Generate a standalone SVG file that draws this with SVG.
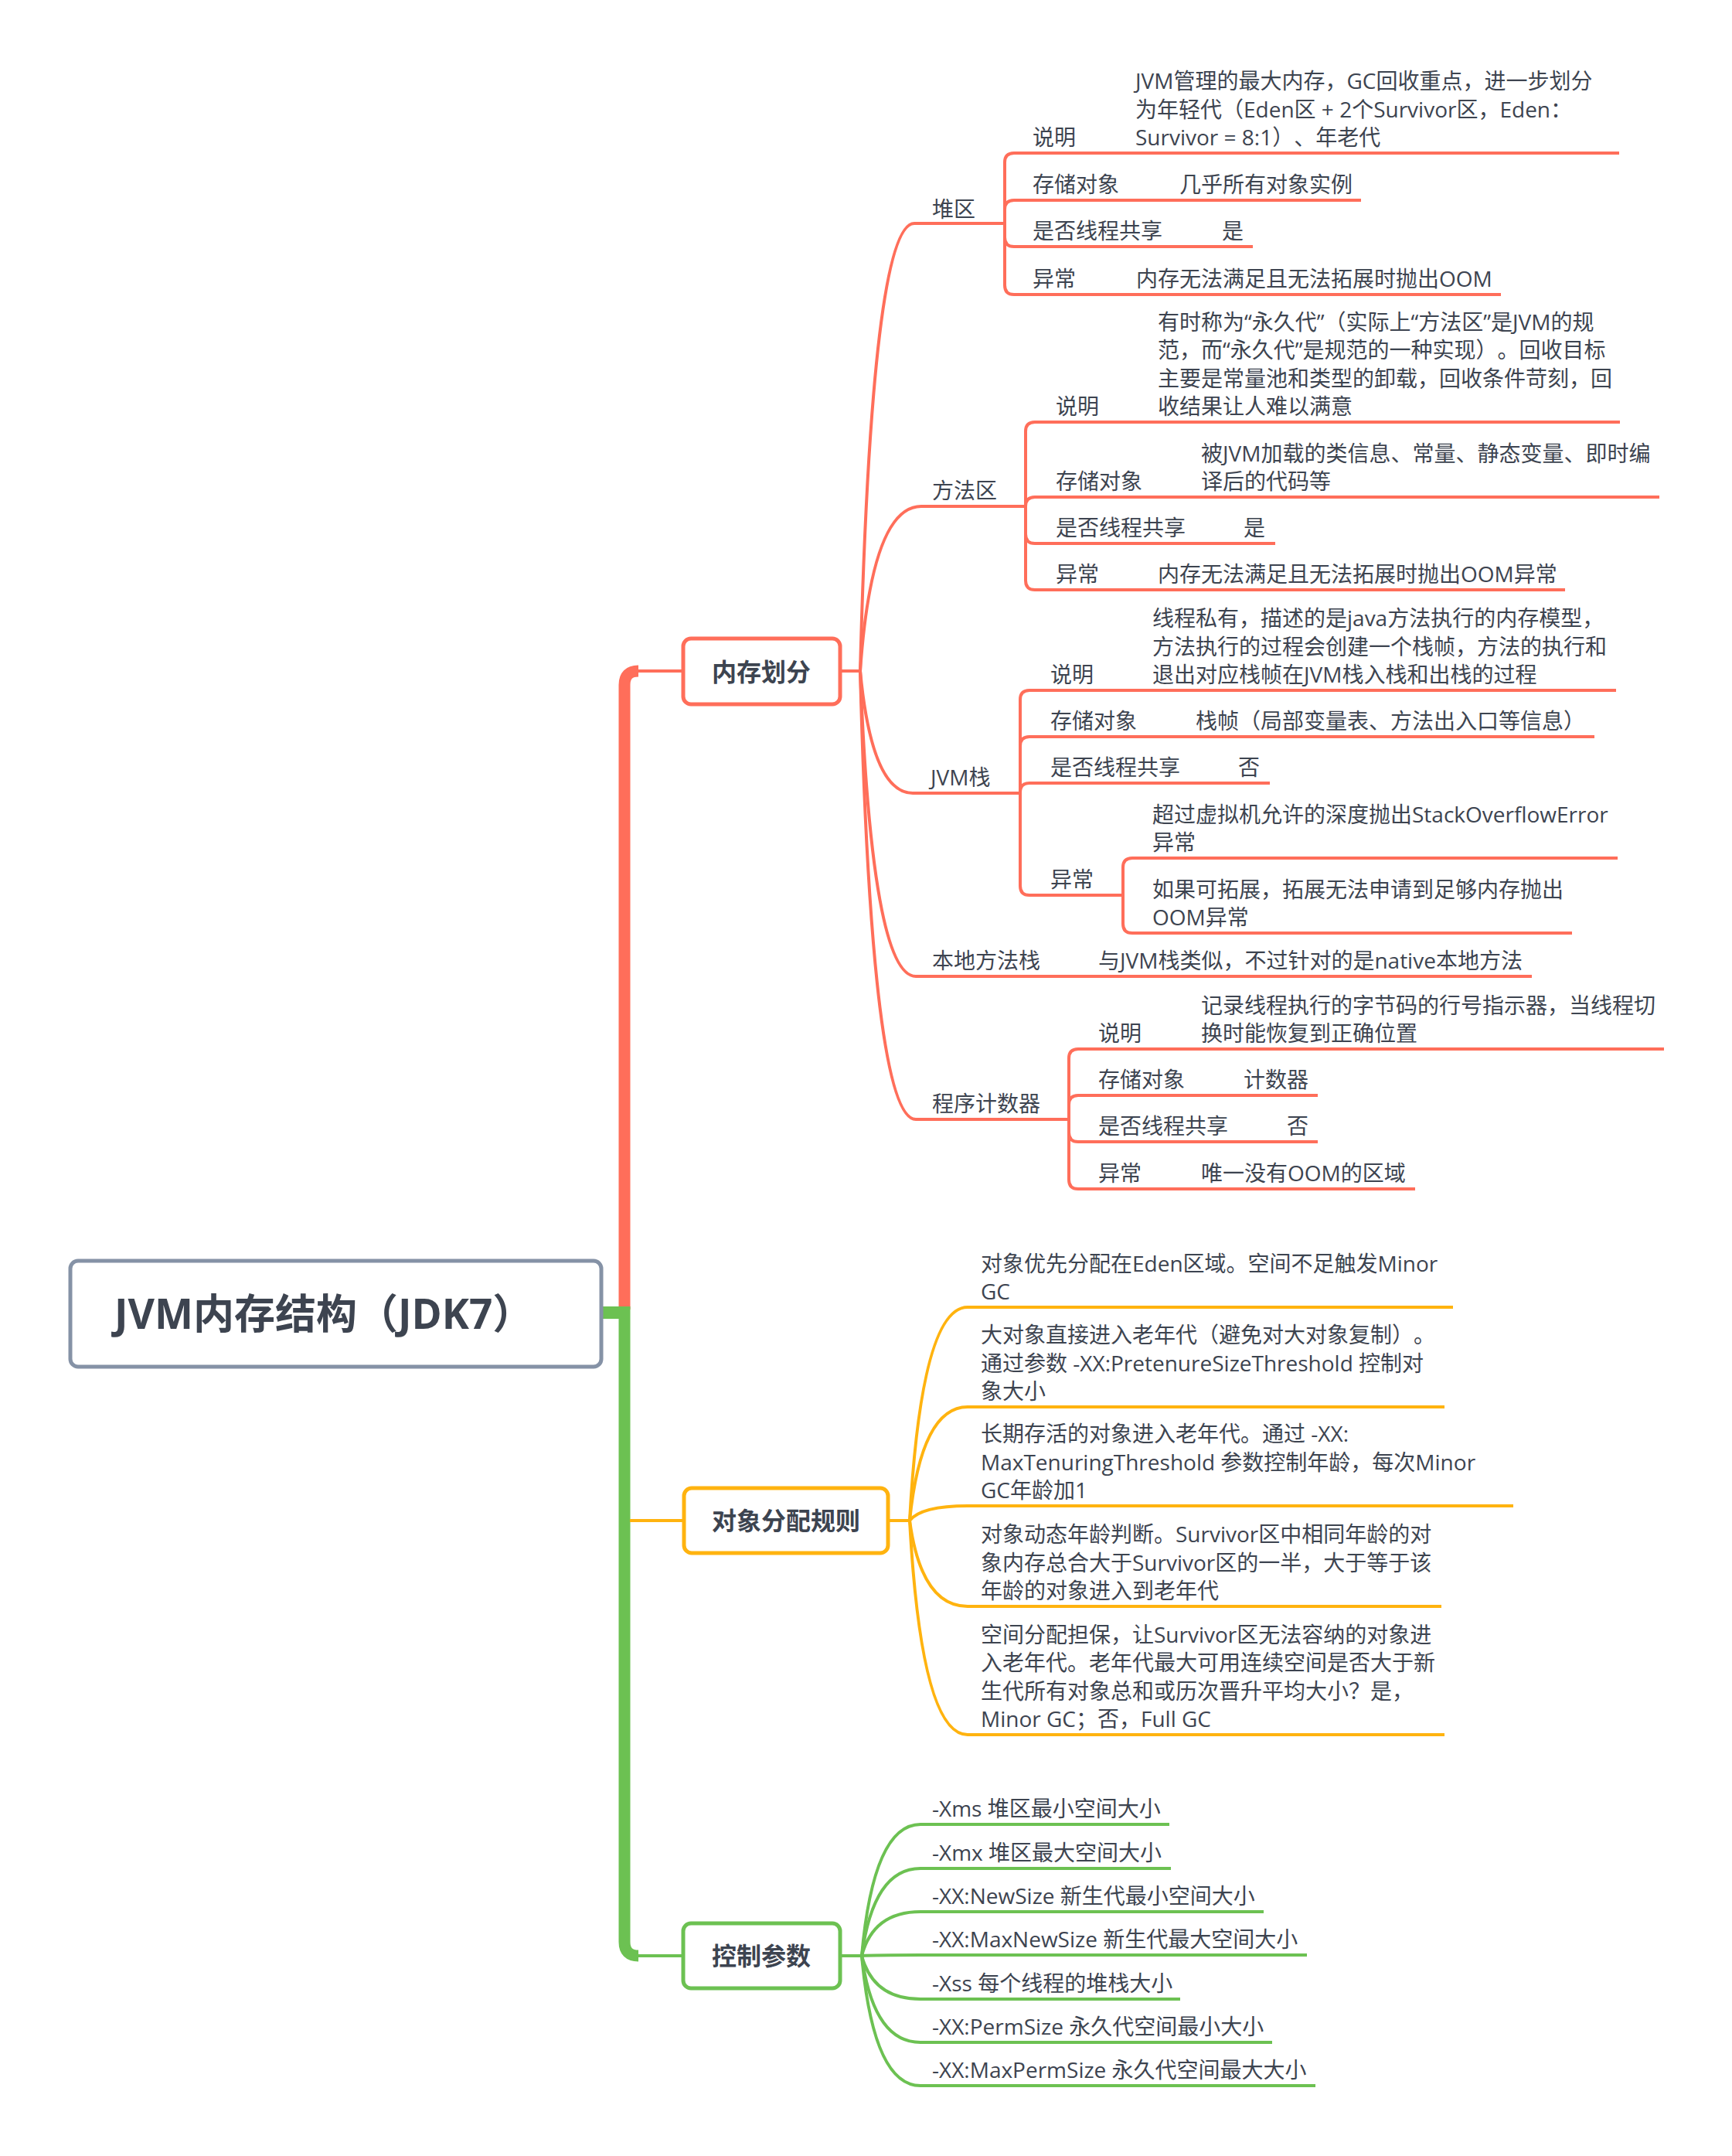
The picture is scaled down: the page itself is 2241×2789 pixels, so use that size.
<svg xmlns="http://www.w3.org/2000/svg" width="2241" height="2789" viewBox="0 0 2241 2789">
<style>
text{font-family:"Open Sans","Noto Sans CJK SC",sans-serif;font-size:28px;fill:#3D4450;text-spacing-trim:space-all}
.hd{font-weight:bold;font-size:32px;text-anchor:middle}
.root{font-weight:bold;font-size:53px}
.r{stroke:#FF6E5A;fill:none;stroke-width:4}
.y{stroke:#FFB30F;fill:none;stroke-width:4}
.g{stroke:#6CC152;fill:none;stroke-width:4}
.box{fill:#FFFFFF;stroke-width:5}
</style>
<rect width="2241" height="2789" fill="#FFFFFF"/>
<g id="connectors">
  <path d="M808 1694 V886 Q808 868 826 868" stroke="#FF6E5A" stroke-width="15" fill="none"/>
  <path d="M820 868 H884" class="r" stroke-width="5"/>
  <path d="M779 1698 H808" stroke="#6CC152" stroke-width="16" fill="none"/>
  <path d="M808 1690 V2512 Q808 2530 826 2530" stroke="#6CC152" stroke-width="15" fill="none"/>
  <path d="M820 2530 H884" class="g" stroke-width="6"/>
  <path d="M815 1967 H884" class="y"/>
  <path d="M1088 868 H1113" class="r"/>
  <path d="M1113 868 Q1128 289 1183 289 H1300" class="r"/>
  <path d="M1113 868 Q1128 655 1192 655 H1327" class="r"/>
  <path d="M1113 868 Q1128 1026 1181 1026 H1320" class="r"/>
  <path d="M1113 868 Q1128 1263 1185 1263 H1982" class="r"/>
  <path d="M1113 868 Q1128 1448 1185 1448 H1383" class="r"/>
  <path d="M1300 289 V210 Q1300 198 1312 198 H2095" class="r"/>
  <path d="M1300 289 V271 Q1300 259 1312 259 H1761" class="r"/>
  <path d="M1300 289 V307 Q1300 319 1312 319 H1621" class="r"/>
  <path d="M1300 289 V369 Q1300 381 1312 381 H1942" class="r"/>
  <path d="M1327 655 V558 Q1327 546 1339 546 H2096" class="r"/>
  <path d="M1327 655 V655 Q1327 643 1339 643 H2147" class="r"/>
  <path d="M1327 655 V691 Q1327 703 1339 703 H1650" class="r"/>
  <path d="M1327 655 V751 Q1327 763 1339 763 H2025" class="r"/>
  <path d="M1320 1026 V905 Q1320 893 1332 893 H2091" class="r"/>
  <path d="M1320 1026 V965 Q1320 953 1332 953 H2063" class="r"/>
  <path d="M1320 1026 V1025 Q1320 1013 1332 1013 H1643" class="r"/>
  <path d="M1320 1026 V1146 Q1320 1158 1332 1158 H1453" class="r"/>
  <path d="M1453 1158 V1122 Q1453 1110 1465 1110 H2093" class="r"/>
  <path d="M1453 1158 V1195 Q1453 1207 1465 1207 H2034" class="r"/>
  <path d="M1383 1448 V1369 Q1383 1357 1395 1357 H2153" class="r"/>
  <path d="M1383 1448 V1429 Q1383 1417 1395 1417 H1705" class="r"/>
  <path d="M1383 1448 V1465 Q1383 1477 1395 1477 H1705" class="r"/>
  <path d="M1383 1448 V1526 Q1383 1538 1395 1538 H1831" class="r"/>
  <path d="M1150 1967 H1177" class="y"/>
  <path d="M1177 1967 Q1192 1691 1252 1691 H1880" class="y"/>
  <path d="M1177 1967 Q1192 1820 1252 1820 H1869" class="y"/>
  <path d="M1177 1967 Q1192 1948 1252 1948 H1958" class="y"/>
  <path d="M1177 1967 Q1192 2078 1252 2078 H1865" class="y"/>
  <path d="M1177 1967 Q1192 2244 1252 2244 H1869" class="y"/>
  <path d="M1087 2530 H1115" class="g"/>
  <path d="M1115 2530 Q1130 2360 1191 2360 H1513" class="g"/>
  <path d="M1115 2530 Q1130 2417 1191 2417 H1515" class="g"/>
  <path d="M1115 2530 Q1130 2473 1191 2473 H1635" class="g"/>
  <path d="M1115 2530 Q1130 2529 1191 2529 H1691" class="g"/>
  <path d="M1115 2530 Q1130 2586 1191 2586 H1527" class="g"/>
  <path d="M1115 2530 Q1130 2642 1191 2642 H1646" class="g"/>
  <path d="M1115 2530 Q1130 2698 1191 2698 H1702" class="g"/>
</g>
<g id="root">
  <rect x="91" y="1631" width="687" height="137" rx="10" class="box" stroke="#8592A6" stroke-width="6"/>
  <text x="148" y="1719" class="root">JVM内存结构（JDK7）</text>
</g>
<g id="n-memory">
  <rect x="884" y="826" width="203" height="85" rx="10" class="box" stroke="#FF6E5A"/>
  <text x="985" y="881" class="hd">内存划分</text>
</g>
<g id="n-alloc">
  <rect x="885" y="1925" width="264" height="84" rx="10" class="box" stroke="#FFB30F"/>
  <text x="1017" y="1979" class="hd">对象分配规则</text>
</g>
<g id="n-params">
  <rect x="884" y="2488" width="203" height="84" rx="10" class="box" stroke="#6CC152"/>
  <text x="985" y="2542" class="hd">控制参数</text>
</g>
<g id="n-heap">
  <text x="1206" y="281">堆区</text>
  <text x="1336" y="188">说明</text>
  <text><tspan x="1469" y="115">JVM管理的最大内存，GC回收重点，进一步划分</tspan><tspan x="1469" y="151.5">为年轻代（Eden区 + 2个Survivor区，Eden：</tspan><tspan x="1469" y="188">Survivor = 8:1）、年老代</tspan></text>
  <text x="1336" y="249">存储对象</text>
  <text x="1526" y="249">几乎所有对象实例</text>
  <text x="1336" y="309">是否线程共享</text>
  <text x="1581" y="309">是</text>
  <text x="1336" y="371">异常</text>
  <text x="1470" y="371">内存无法满足且无法拓展时抛出OOM</text>
</g>
<g id="n-method">
  <text x="1206" y="645">方法区</text>
  <text x="1366" y="536">说明</text>
  <text><tspan x="1498" y="426.5">有时称为“永久代”（实际上“方法区”是JVM的规</tspan><tspan x="1498" y="463">范，而“永久代”是规范的一种实现）。回收目标</tspan><tspan x="1498" y="499.5">主要是常量池和类型的卸载，回收条件苛刻，回</tspan><tspan x="1498" y="536">收结果让人难以满意</tspan></text>
  <text x="1366" y="633">存储对象</text>
  <text><tspan x="1554" y="596.5">被JVM加载的类信息、常量、静态变量、即时编</tspan><tspan x="1554" y="633">译后的代码等</tspan></text>
  <text x="1366" y="693">是否线程共享</text>
  <text x="1609" y="693">是</text>
  <text x="1366" y="753">异常</text>
  <text x="1498" y="753">内存无法满足且无法拓展时抛出OOM异常</text>
</g>
<g id="n-jvmstack">
  <text x="1204" y="1016">JVM栈</text>
  <text x="1359" y="883">说明</text>
  <text><tspan x="1491" y="810">线程私有，描述的是java方法执行的内存模型，</tspan><tspan x="1491" y="846.5">方法执行的过程会创建一个栈帧，方法的执行和</tspan><tspan x="1491" y="883">退出对应栈帧在JVM栈入栈和出栈的过程</tspan></text>
  <text x="1359" y="943">存储对象</text>
  <text x="1547" y="943">栈帧（局部变量表、方法出入口等信息）</text>
  <text x="1359" y="1003">是否线程共享</text>
  <text x="1602" y="1003">否</text>
  <text x="1359" y="1148">异常</text>
  <text><tspan x="1491" y="1063.5">超过虚拟机允许的深度抛出StackOverflowError</tspan><tspan x="1491" y="1100">异常</tspan></text>
  <text><tspan x="1491" y="1160.5">如果可拓展，拓展无法申请到足够内存抛出</tspan><tspan x="1491" y="1197">OOM异常</tspan></text>
</g>
<g id="n-native">
  <text x="1206" y="1253">本地方法栈</text>
  <text x="1421" y="1253">与JVM栈类似，不过针对的是native本地方法</text>
</g>
<g id="n-pc">
  <text x="1206" y="1438">程序计数器</text>
  <text x="1421" y="1347">说明</text>
  <text><tspan x="1554" y="1310.5">记录线程执行的字节码的行号指示器，当线程切</tspan><tspan x="1554" y="1347">换时能恢复到正确位置</tspan></text>
  <text x="1421" y="1407">存储对象</text>
  <text x="1609" y="1407">计数器</text>
  <text x="1421" y="1467">是否线程共享</text>
  <text x="1665" y="1467">否</text>
  <text x="1421" y="1528">异常</text>
  <text x="1554" y="1528">唯一没有OOM的区域</text>
</g>
<g id="n-alloc-items">
  <text><tspan x="1269" y="1644.5">对象优先分配在Eden区域。空间不足触发Minor</tspan><tspan x="1269" y="1681">GC</tspan></text>
  <text><tspan x="1269" y="1737">大对象直接进入老年代（避免对大对象复制）。</tspan><tspan x="1269" y="1773.5">通过参数 -XX:PretenureSizeThreshold 控制对</tspan><tspan x="1269" y="1810">象大小</tspan></text>
  <text><tspan x="1269" y="1865">长期存活的对象进入老年代。通过 -XX:</tspan><tspan x="1269" y="1901.5">MaxTenuringThreshold 参数控制年龄，每次Minor</tspan><tspan x="1269" y="1938">GC年龄加1</tspan></text>
  <text><tspan x="1269" y="1995">对象动态年龄判断。Survivor区中相同年龄的对</tspan><tspan x="1269" y="2031.5">象内存总合大于Survivor区的一半，大于等于该</tspan><tspan x="1269" y="2068">年龄的对象进入到老年代</tspan></text>
  <text><tspan x="1269" y="2124.5">空间分配担保，让Survivor区无法容纳的对象进</tspan><tspan x="1269" y="2161">入老年代。老年代最大可用连续空间是否大于新</tspan><tspan x="1269" y="2197.5">生代所有对象总和或历次晋升平均大小？是，</tspan><tspan x="1269" y="2234">Minor GC；否，Full GC</tspan></text>
</g>
<g id="n-param-items">
  <text x="1206" y="2350">-Xms 堆区最小空间大小</text>
  <text x="1206" y="2407">-Xmx 堆区最大空间大小</text>
  <text x="1206" y="2463">-XX:NewSize 新生代最小空间大小</text>
  <text x="1206" y="2519">-XX:MaxNewSize 新生代最大空间大小</text>
  <text x="1206" y="2576">-Xss 每个线程的堆栈大小</text>
  <text x="1206" y="2632">-XX:PermSize 永久代空间最小大小</text>
  <text x="1206" y="2688">-XX:MaxPermSize 永久代空间最大大小</text>
</g>
</svg>
